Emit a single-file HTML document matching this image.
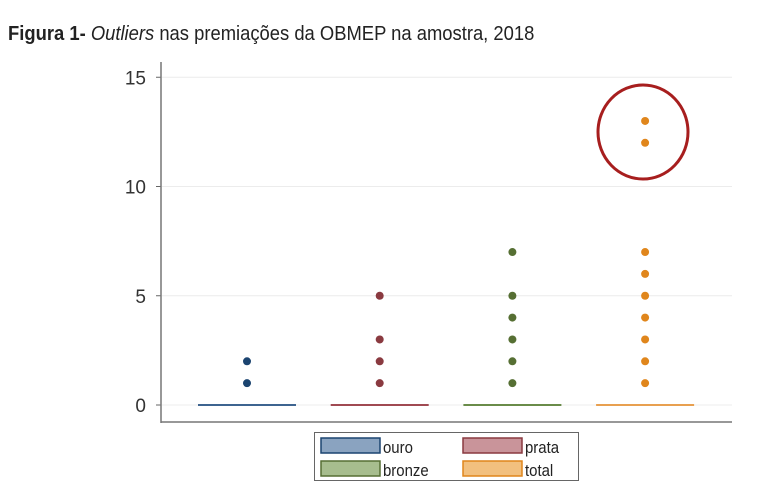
<!DOCTYPE html>
<html><head><meta charset="utf-8"><style>
body{margin:0;background:#fff;width:766px;height:488px;overflow:hidden;font-family:"Liberation Sans",sans-serif}
#title{position:absolute;left:8px;top:23px;font-size:20px;color:#222;transform:scaleX(0.92);transform-origin:left;white-space:nowrap}
</style></head><body>
<div id="title"><b>Figura 1-</b> <i>Outliers</i> nas premiações da OBMEP na amostra, 2018</div>
<svg id="c" width="766" height="488" style="position:absolute;left:0;top:0"></svg>
<script>
const categories=["ouro","prata","bronze","total"];
const medians=[0,0,0,0];
const outliersOuro=[1,2];
const outliersPrata=[1,2,3,5];
const outliersBronze=[1,2,3,4,5,7];
const outliersTotal=[1,2,3,4,5,6,7,12,13];
const yTicks=[0,5,10,15];
const lineColors=["#3e6490","#a04a52","#6a8c4a","#e8a050"];
const dotColors=["#1b4470","#8a3a40","#566f33","#e0861c"];
const fillColors=["#8aa3c0","#c9949a","#a7bd8e","#f2c07f"];
const outliers=[outliersOuro,outliersPrata,outliersBronze,outliersTotal];
const NS="http://www.w3.org/2000/svg",svg=document.getElementById('c');
const y=v=>405-v*21.85;
const x=i=>247+i*132.7;
function mk(t,a,p){const e=document.createElementNS(NS,t);for(const k in a)e.setAttribute(k,a[k]);(p||svg).appendChild(e);return e;}
yTicks.forEach(t=>{
 const g=mk('line',{x1:162,x2:732,y1:y(t),y2:y(t),stroke:'#ececec','stroke-width':1});
 
 
 mk('line',{x1:156,x2:161,y1:y(t),y2:y(t),stroke:'#666'});
 const l=mk('text',{x:146,y:y(t)+7,'text-anchor':'end','font-size':19,fill:'#333','font-family':'Liberation Sans'});
 l.textContent=t;
 
 
});
const ya=mk('line',{x1:161,x2:161,y1:62,y2:423,stroke:'#777','stroke-width':1.5});


const xa=mk('line',{x1:161,x2:732,y1:422,y2:422,stroke:'#777','stroke-width':1.5});


categories.forEach((c,i)=>{
 const m=mk('line',{x1:x(i)-49,x2:x(i)+49,y1:y(medians[i]),y2:y(medians[i]),stroke:lineColors[i],'stroke-width':2});
 
 
 outliers[i].forEach(v=>{
  const d=mk('circle',{cx:x(i),cy:y(v),r:4,fill:dotColors[i]});
  
  
 });
});
const hl=mk('ellipse',{cx:643,cy:132,rx:45,ry:47,fill:'none',stroke:'#a71e1e','stroke-width':3});


const lg=mk('g',{});


mk('rect',{x:314.5,y:432.5,width:264,height:48,fill:'#fff',stroke:'#666'},lg);
const pos=[[321,438],[463,438],[321,461],[463,461]];
categories.forEach((c,i)=>{
 const r=mk('rect',{x:pos[i][0],y:pos[i][1],width:59,height:15,fill:fillColors[i],stroke:dotColors[i],'stroke-width':1.5},lg);
 
 
 const t=mk('text',{x:pos[i][0]+62,y:pos[i][1]+15,'font-size':17,fill:'#222','font-family':'Liberation Sans',transform:'translate('+(pos[i][0]+62)+',0) scale(0.88,1) translate('+(-(pos[i][0]+62))+',0)'},lg);
 t.textContent=c;
 
 
});
</script>
</body></html>
